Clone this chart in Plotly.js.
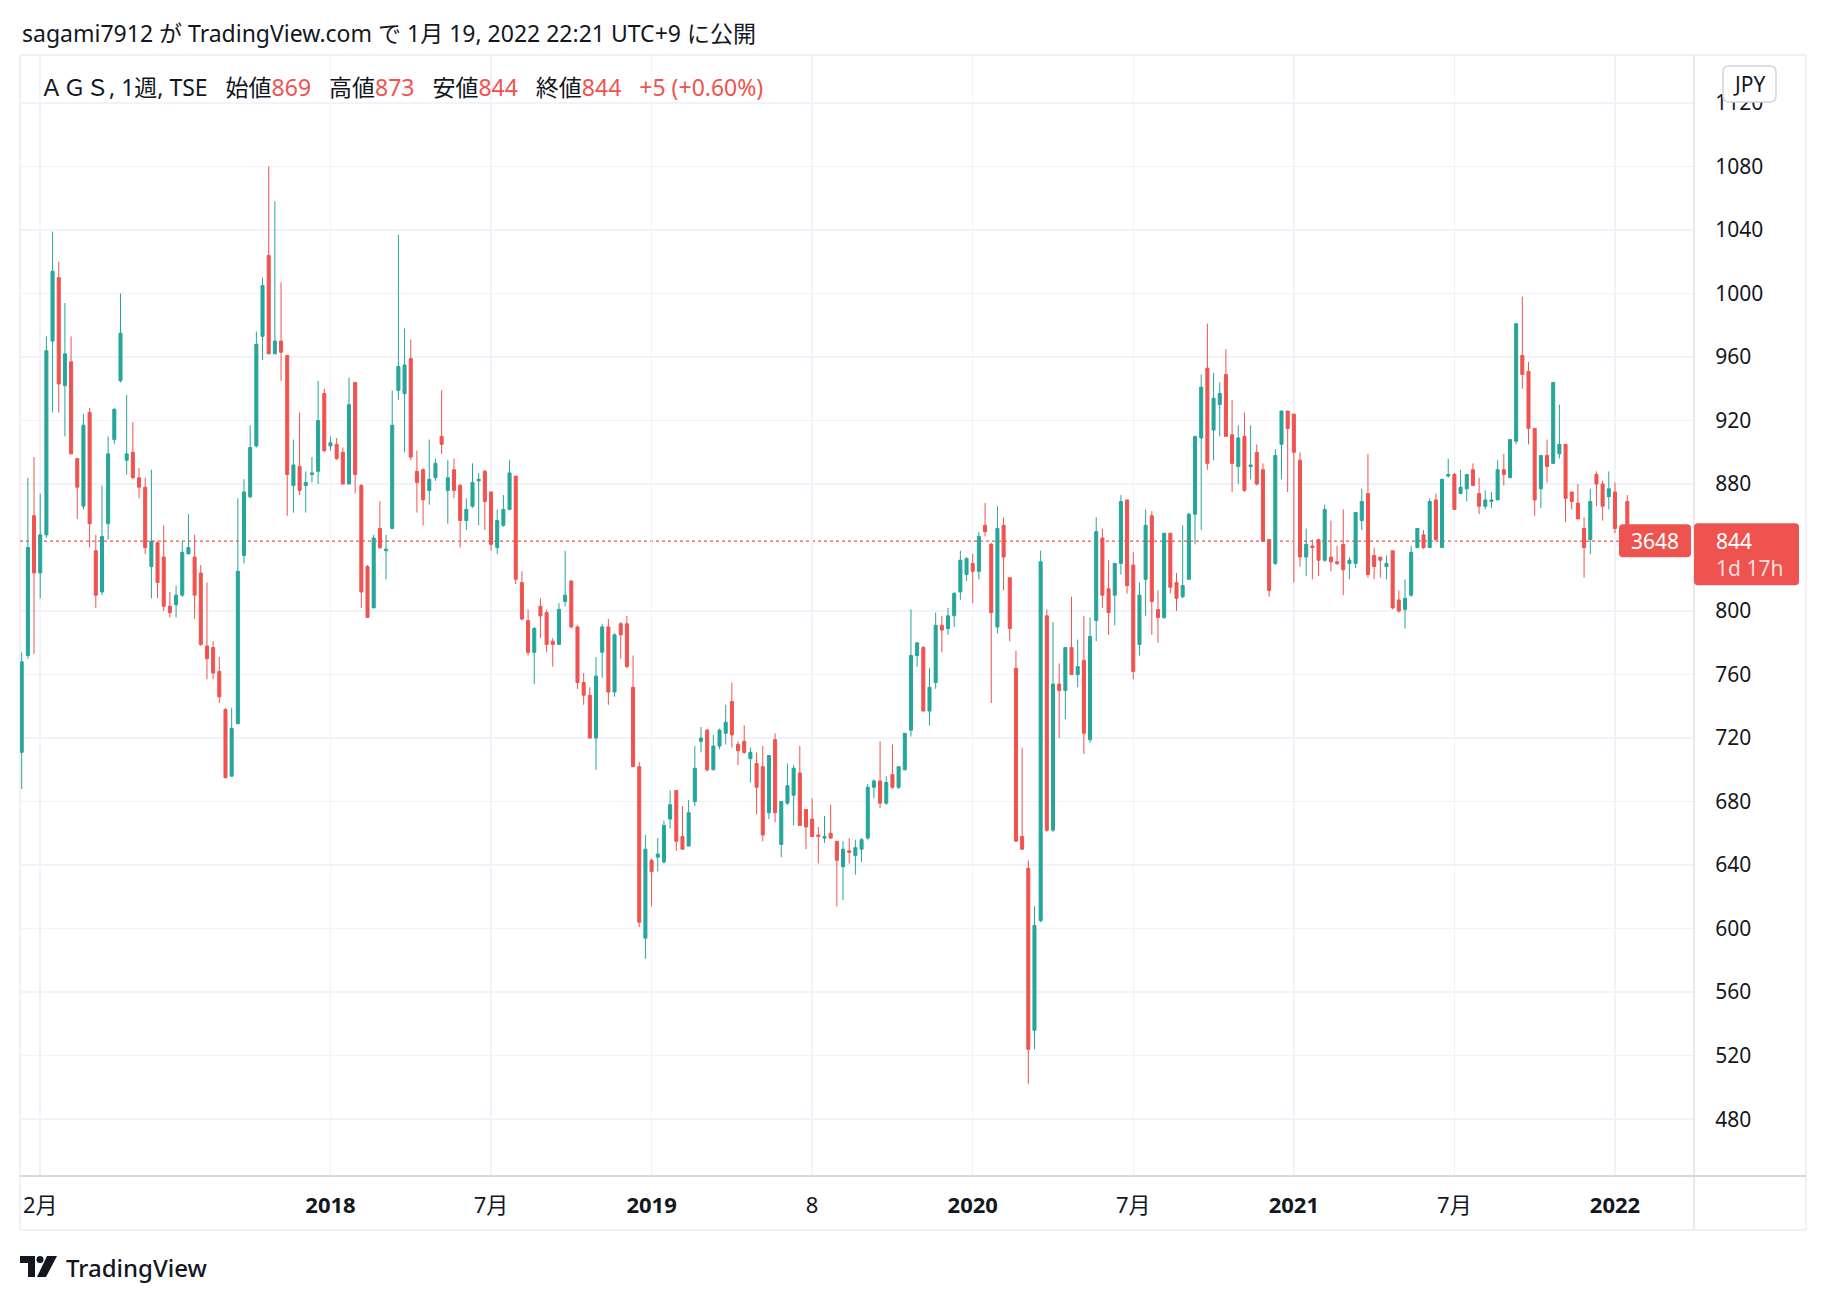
<!DOCTYPE html>
<html>
<head>
<meta charset="utf-8">
<script src="https://cdn.plot.ly/plotly-3.0.1.min.js"></script>
<style>
  html, body { margin: 0; padding: 0; background: #ffffff; }
  #plot { width: 1826px; height: 1302px; }
</style>
</head>
<body>
<div id="plot"></div>
<script>
// weekly bars, AGS (TSE), from the week of 2017-01-23 to the week of 2022-01-17
var firstWeek = '2017-01-23';

var open = [711, 772, 860, 824, 848, 970, 1010, 942, 957, 896, 866, 925, 838, 812, 855, 908, 945, 895, 900, 884,
  878, 828, 843, 834, 803, 804, 810, 836, 834, 824, 778, 777, 762, 738, 696, 729, 835, 872, 904, 973,
  1024, 962, 970, 961, 879, 891, 879, 886, 888, 937, 904, 905, 900, 880, 944, 879, 828, 802, 852, 838,
  852, 939, 937, 959, 888, 889, 876, 884, 910, 876, 889, 879, 857, 866, 882, 888, 875, 840, 854, 864,
  885, 818, 794, 774, 803, 799, 781, 779, 806, 819, 790, 755, 747, 720, 774, 790, 749, 792, 792, 752,
  702, 594, 643, 645, 642, 669, 687, 658, 652, 680, 718, 725, 700, 715, 723, 743, 716, 718, 707, 704,
  702, 673, 719, 653, 679, 684, 698, 675, 669, 659, 657, 660, 655, 639, 649, 646, 650, 657, 689, 693,
  679, 697, 689, 700, 725, 772, 777, 737, 755, 791, 789, 797, 812, 823, 830, 825, 854, 842, 790, 854,
  821, 764, 658, 638, 536, 605, 797, 662, 754, 750, 777, 760, 769, 719, 794, 846, 814, 810, 830, 870,
  829, 779, 820, 860, 801, 796, 849, 818, 809, 820, 861, 909, 953, 914, 930, 949, 911, 891, 910, 891,
  900, 889, 845, 830, 905, 926, 924, 895, 834, 841, 845, 832, 834, 831, 842, 830, 830, 857, 874, 835,
  834, 828, 838, 807, 801, 810, 840, 848, 840, 870, 840, 885, 886, 874, 877, 889, 874, 866, 869, 870,
  889, 884, 907, 961, 951, 915, 877, 898, 893, 899, 905, 875, 868, 852, 845, 886, 880, 872, 875, 851,
  869];
var high = [774, 884, 897, 874, 973, 1039, 1020, 994, 973, 896, 924, 928, 848, 879, 910, 928, 1000, 936, 919, 890,
  884, 889, 844, 854, 812, 816, 844, 861, 848, 829, 818, 781, 771, 739, 739, 871, 883, 917, 976, 1010,
  1080, 1058, 1007, 961, 908, 925, 888, 897, 945, 940, 910, 909, 903, 947, 944, 880, 829, 848, 869, 848,
  939, 1037, 978, 971, 901, 890, 908, 896, 939, 895, 896, 880, 871, 893, 887, 889, 875, 864, 873, 895,
  885, 825, 801, 790, 808, 801, 783, 805, 838, 819, 791, 761, 752, 771, 792, 795, 786, 793, 797, 772,
  705, 659, 644, 657, 668, 687, 687, 677, 681, 715, 727, 726, 722, 726, 741, 755, 718, 728, 714, 711,
  715, 709, 723, 680, 704, 703, 715, 675, 682, 664, 671, 678, 655, 655, 657, 656, 657, 691, 694, 718,
  696, 716, 702, 723, 801, 780, 778, 764, 799, 797, 802, 812, 838, 834, 836, 850, 868, 843, 866, 859,
  821, 775, 714, 643, 614, 838, 801, 793, 767, 777, 809, 782, 797, 796, 859, 852, 832, 830, 873, 870,
  837, 818, 864, 863, 813, 849, 849, 824, 854, 862, 910, 949, 981, 950, 944, 965, 933, 917, 925, 917,
  905, 893, 845, 902, 926, 926, 924, 900, 852, 845, 845, 867, 857, 841, 864, 834, 862, 877, 899, 840,
  834, 835, 838, 813, 820, 841, 852, 851, 871, 874, 883, 896, 887, 889, 886, 893, 884, 876, 875, 895,
  899, 908, 981, 998, 957, 915, 898, 908, 944, 930, 905, 875, 880, 859, 877, 888, 882, 888, 881, 853,
  873];
var low = [688, 770, 773, 808, 846, 925, 925, 910, 899, 858, 864, 840, 802, 810, 845, 905, 944, 886, 883, 871,
  836, 808, 808, 800, 796, 796, 809, 836, 795, 778, 757, 757, 742, 695, 696, 729, 830, 871, 903, 958,
  962, 962, 945, 860, 862, 873, 862, 881, 880, 900, 901, 895, 880, 880, 874, 802, 796, 802, 839, 820,
  852, 933, 900, 895, 862, 854, 867, 882, 899, 855, 871, 840, 851, 865, 854, 851, 838, 836, 853, 864,
  817, 794, 772, 754, 783, 774, 765, 779, 803, 789, 751, 741, 720, 700, 758, 741, 746, 770, 764, 702,
  601, 581, 614, 636, 641, 663, 649, 650, 652, 677, 711, 699, 700, 713, 716, 714, 703, 710, 692, 672,
  655, 669, 667, 645, 678, 665, 665, 650, 658, 641, 654, 657, 614, 618, 641, 634, 642, 656, 682, 676,
  678, 688, 688, 700, 721, 765, 737, 728, 751, 774, 785, 790, 807, 819, 805, 820, 847, 742, 786, 813,
  781, 655, 650, 502, 524, 604, 661, 661, 720, 732, 760, 752, 710, 717, 781, 802, 785, 791, 823, 811,
  757, 772, 797, 785, 780, 795, 811, 800, 808, 820, 842, 851, 889, 895, 910, 910, 875, 880, 875, 883,
  879, 844, 809, 829, 883, 875, 818, 828, 822, 820, 822, 831, 825, 829, 810, 820, 827, 851, 821, 820,
  821, 820, 801, 799, 789, 809, 840, 839, 840, 844, 840, 884, 864, 874, 869, 879, 861, 864, 865, 870,
  879, 884, 905, 940, 905, 860, 865, 881, 893, 896, 856, 864, 858, 821, 836, 866, 857, 864, 849, 836,
  844];
var close = [768, 840, 824, 848, 964, 1014, 943, 962, 899, 878, 917, 855, 810, 847, 899, 927, 975, 899, 884, 878,
  840, 844, 818, 803, 799, 810, 837, 840, 810, 779, 770, 761, 746, 695, 726, 825, 875, 903, 968, 1005,
  962, 970, 963, 886, 892, 876, 881, 887, 920, 901, 906, 896, 880, 930, 886, 812, 796, 846, 840, 839,
  917, 954, 955, 897, 881, 870, 883, 893, 905, 884, 876, 857, 864, 881, 883, 869, 842, 857, 864, 887,
  820, 795, 774, 789, 797, 779, 779, 801, 810, 790, 755, 747, 720, 759, 790, 749, 785, 785, 765, 702,
  604, 650, 636, 647, 665, 678, 655, 650, 673, 701, 720, 700, 715, 725, 730, 722, 712, 711, 711, 689,
  659, 709, 673, 680, 690, 701, 665, 664, 658, 658, 658, 657, 643, 650, 648, 651, 656, 689, 693, 679,
  692, 689, 702, 723, 772, 780, 737, 752, 791, 788, 797, 811, 832, 833, 825, 847, 850, 799, 852, 834,
  789, 655, 650, 524, 602, 831, 662, 754, 750, 777, 760, 765, 723, 784, 850, 810, 799, 830, 869, 816,
  762, 810, 854, 806, 796, 849, 815, 808, 816, 861, 910, 941, 893, 934, 937, 910, 893, 909, 876, 892,
  880, 844, 813, 898, 926, 915, 900, 834, 842, 840, 832, 864, 831, 830, 826, 832, 862, 869, 823, 828,
  832, 830, 802, 800, 808, 837, 852, 840, 869, 845, 883, 886, 864, 878, 886, 879, 866, 870, 870, 889,
  886, 908, 981, 949, 915, 870, 898, 891, 944, 905, 871, 869, 858, 840, 869, 880, 866, 877, 852, 839,
  844];

var lastVolume = 3648;
var symbolText = 'ＡＧＳ, 1週, TSE';
var publishedText = 'sagami7912 が TradingView.com で 1月 19, 2022 22:21 UTC+9 に公開';
var countdownText = '1d 17h';

var tickDates = ['2017-02-13', '2018-01-08', '2018-07-09', '2019-01-07', '2019-07-08',
  '2020-01-06', '2020-07-06', '2021-01-04', '2021-07-05', '2022-01-03'];
var tickLabels = ['2月', '<b>2018</b>', '7月', '<b>2019</b>', '8',
  '<b>2020</b>', '7月', '<b>2021</b>', '7月', '<b>2022</b>'];

// week dates
var dates = [];
var t0 = Date.parse(firstWeek + 'T00:00:00Z');
for (var i = 0; i < close.length; i++) {
  dates.push(new Date(t0 + i * 7 * 86400000).toISOString().slice(0, 10));
}

var UP = '#26a69a', DOWN = '#ef5350', TXT = '#131722', GRID = '#f0f3fa', BORDER = '#e0e3eb';
var FONT = '"Noto Sans", "Noto Sans CJK JP", sans-serif';

// plot box in pixels
var W = 1826, H = 1302;
var plotL = 20, plotR = 1694, plotT = 55, plotB = 1176;
var plotW = plotR - plotL, plotH = plotB - plotT;
var yMin = 444.2, yMax = 1150.2;

function px2x(px) { return (px - plotL) / plotW; }
function py2y(py) { return (plotB - py) / plotH; }
function priceY(p) { return plotT + (yMax - p) / (yMax - yMin) * plotH; }
function pt(x, y) { return px2x(x) + ',' + py2y(y); }
function roundRect(x0, y0, x1, y1, r) {
  return 'M' + pt(x0 + r, y0) + ' L' + pt(x1 - r, y0) + ' Q' + pt(x1, y0) + ' ' + pt(x1, y0 + r) +
    ' L' + pt(x1, y1 - r) + ' Q' + pt(x1, y1) + ' ' + pt(x1 - r, y1) +
    ' L' + pt(x0 + r, y1) + ' Q' + pt(x0, y1) + ' ' + pt(x0, y1 - r) +
    ' L' + pt(x0, y0 + r) + ' Q' + pt(x0, y0) + ' ' + pt(x0 + r, y0) + ' Z';
}

var n = close.length;
var lastO = open[n - 1], lastH = high[n - 1], lastL = low[n - 1], lastC = close[n - 1];
var chg = lastC - close[n - 2];
var pct = chg / close[n - 2] * 100;
var lastColor = lastC >= lastO ? UP : DOWN;
function red(s) { return '<span style="color:' + lastColor + '">' + s + '</span>'; }
var sp = '\u00a0\u00a0\u00a0';
var legendText = symbolText + sp + '始値' + red(lastO) + sp + '高値' + red(lastH) + sp +
  '安値' + red(lastL) + sp + '終値' + red(lastC) + sp +
  red((chg >= 0 ? '+' : '') + chg + ' (' + (pct >= 0 ? '+' : '') + pct.toFixed(2) + '%)');

// price ticks every 40; the one under the last-price label is hidden like on TradingView
var yTicks = [];
for (var v = 480; v <= 1120; v += 40) {
  if (Math.abs(v - lastC) > 20) yTicks.push(v);
}

var trace1 = {
  type: 'candlestick',
  x: dates,
  open: open,
  high: high,
  low: low,
  close: close,
  increasing: { line: { color: UP, width: 1 }, fillcolor: UP },
  decreasing: { line: { color: DOWN, width: 1 }, fillcolor: DOWN },
  whiskerwidth: 0,
  hoverinfo: 'none',
  showlegend: false
};

var yc = priceY(lastC);

var shapes = [
  // frame
  { type: 'rect', xref: 'paper', yref: 'paper', x0: px2x(20), x1: px2x(1806), y0: py2y(55), y1: py2y(1230),
    line: { color: BORDER, width: 1 }, layer: 'below' },
  { type: 'line', xref: 'paper', yref: 'paper', x0: px2x(1694), x1: px2x(1694), y0: py2y(55), y1: py2y(1230),
    line: { color: BORDER, width: 1.5 } },
  { type: 'line', xref: 'paper', yref: 'paper', x0: px2x(20), x1: px2x(1806), y0: py2y(1176), y1: py2y(1176),
    line: { color: '#d6d9e0', width: 2 } },
  // last price line
  { type: 'line', xref: 'paper', yref: 'y', x0: 0, x1: 1, y0: lastC, y1: lastC,
    line: { color: lastColor, width: 1.2, dash: 'dot' }, layer: 'below' },
  // volume label and price label
  { type: 'path', xref: 'paper', yref: 'paper', path: roundRect(1619, yc - 17, 1691, yc + 16, 4),
    fillcolor: lastColor, line: { width: 0 } },
  { type: 'path', xref: 'paper', yref: 'paper', path: roundRect(1694, yc - 18, 1799, yc + 44, 4),
    fillcolor: lastColor, line: { width: 0 } },
  // currency button
  { type: 'path', xref: 'paper', yref: 'paper', path: roundRect(1723, 66, 1776, 102, 6),
    fillcolor: '#ffffff', line: { color: '#d1d4dc', width: 1.5 } },
  // TradingView logo
  { type: 'path', xref: 'paper', yref: 'paper',
    path: 'M' + pt(20, 1256) + ' L' + pt(35, 1256) + ' L' + pt(35, 1277) + ' L' + pt(28, 1277) +
      ' L' + pt(28, 1263) + ' L' + pt(20, 1263) + ' Z',
    fillcolor: TXT, line: { width: 0 } },
  { type: 'circle', xref: 'paper', yref: 'paper', x0: px2x(36.5), x1: px2x(43.5), y0: py2y(1256), y1: py2y(1263),
    fillcolor: TXT, line: { width: 0 } },
  { type: 'path', xref: 'paper', yref: 'paper',
    path: 'M' + pt(47, 1256) + ' L' + pt(57, 1256) + ' L' + pt(46, 1277) + ' L' + pt(37, 1277) + ' Z',
    fillcolor: TXT, line: { width: 0 } }
];

var annotations = [
  { text: publishedText, x: px2x(20), y: py2y(33), xanchor: 'left', yanchor: 'middle',
    font: { size: 23, color: TXT, family: FONT } },
  { text: legendText, x: px2x(38), y: py2y(87), xanchor: 'left', yanchor: 'middle',
    font: { size: 23, color: TXT, family: FONT } },
  { text: 'JPY', x: px2x(1749.5), y: py2y(84), xanchor: 'center', yanchor: 'middle',
    font: { size: 21, color: TXT, family: FONT } },
  { text: String(lastVolume), x: px2x(1655), y: py2y(yc), xanchor: 'center', yanchor: 'middle',
    font: { size: 21, color: '#ffffff', family: FONT } },
  { text: String(lastC), x: px2x(1714), y: py2y(yc), xanchor: 'left', yanchor: 'middle',
    font: { size: 21, color: '#ffffff', family: FONT } },
  { text: countdownText, x: px2x(1714), y: py2y(yc + 27), xanchor: 'left', yanchor: 'middle',
    font: { size: 21, color: 'rgba(255,255,255,0.82)', family: FONT } },
  { text: 'TradingView', x: px2x(64), y: py2y(1267), xanchor: 'left', yanchor: 'middle',
    font: { size: 24, color: TXT, family: FONT, weight: 500 } }
];
annotations.forEach(function (a) { a.xref = 'paper'; a.yref = 'paper'; a.showarrow = false; });

var layout = {
  width: W,
  height: H,
  margin: { l: plotL, r: W - plotR, t: plotT, b: H - plotB },
  paper_bgcolor: '#ffffff',
  plot_bgcolor: '#ffffff',
  font: { family: FONT, color: TXT },
  showlegend: false,
  dragmode: false,
  xaxis: {
    type: 'date',
    range: ['2017-01-21 02:00', '2022-04-02 14:00'],
    rangeslider: { visible: false },
    tickmode: 'array',
    tickvals: tickDates,
    ticktext: tickLabels,
    tickfont: { size: 22, color: TXT },
    ticks: 'outside',
    ticklen: 10,
    tickcolor: 'rgba(0,0,0,0)',
    showgrid: true,
    gridcolor: GRID,
    gridwidth: 1.5,
    zeroline: false,
    showline: false,
    fixedrange: true
  },
  yaxis: {
    side: 'right',
    range: [yMin, yMax],
    tickmode: 'array',
    tickvals: yTicks,
    tickfont: { size: 21, color: TXT },
    ticks: 'outside',
    ticklen: 16,
    tickcolor: 'rgba(0,0,0,0)',
    showgrid: true,
    gridcolor: GRID,
    gridwidth: 1.5,
    zeroline: false,
    showline: false,
    fixedrange: true
  },
  shapes: shapes,
  annotations: annotations
};

Plotly.newPlot('plot', [trace1], layout, { displayModeBar: false, staticPlot: true });
</script>
</body>
</html>
